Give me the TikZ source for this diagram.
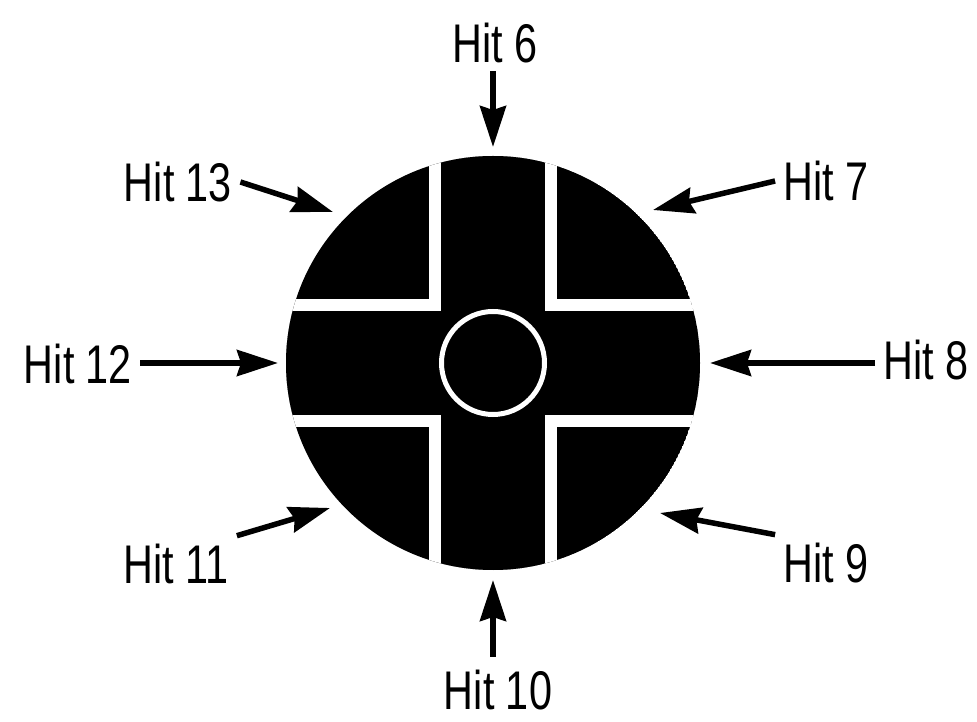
\documentclass[tikz,border=0pt]{standalone}
\usepackage{fontspec}
\setmainfont[FakeStretch=0.76]{Liberation Sans}
\usetikzlibrary{arrows.meta}

\begin{document}
\begin{tikzpicture}[x=0.02cm,y=-0.02cm,inner sep=0.16cm,
  font=\fontsize{31}{36}\selectfont,
  hitarrow/.style={-{Stealth[length=0.82cm,width=0.52cm,inset=0.08cm]},line width=0.11cm}]
\def\R{207}
\useasboundingbox (0,0) rectangle (977,722);
\coordinate (c) at (493,363);

% target
\begin{scope}
\clip (c) circle (\R);
\fill[black] (c) circle (\R);
\fill[white,shift={(c)}] (-64,-250) rectangle (64,250);
\fill[white,shift={(c)}] (-250,-64) rectangle (250,64);
\fill[black,shift={(c)}] (-52,-250) rectangle (52,250);
\fill[black,shift={(c)}] (-250,-52) rectangle (250,52);
\end{scope}
\draw[white,line width=0.1cm] (c) circle (51.5);

% arrow tips
\coordinate (t6) at (493,147);
\coordinate (t7) at (653,210);
\coordinate (t8) at (710,363);
\coordinate (t9) at (660,513);
\coordinate (t10) at (493,580);
\coordinate (t11) at (330,508);
\coordinate (t12) at (278,363);
\coordinate (t13) at (333,212);

\node (h6) at (495,43) {Hit 6};
\node (h7) at (826,181) {Hit 7};
\node (h8) at (926,360) {Hit 8};
\node (h9) at (826,563) {Hit 9};
\node[inner sep=0.06cm] (h10) at (498,690) {Hit 10};
\node (h11) at (176,564) {Hit 11};
\node (h12) at (78,364) {Hit 12};
\node (h13) at (178,182) {Hit 13};

\draw[hitarrow] (h6.south -| t6) -- (t6);
\draw[hitarrow] (h7.west) -- (t7);
\draw[hitarrow] (h8.west |- t8) -- (t8);
\draw[hitarrow] (h9.north west) -- (t9);
\draw[hitarrow] ([yshift=0.2cm]h10.north -| t10) -- (t10);
\draw[hitarrow] (h11.north east) -- (t11);
\draw[hitarrow] (h12.east |- t12) -- (t12);
\draw[hitarrow] (h13.east) -- (t13);
\end{tikzpicture}
\end{document}
